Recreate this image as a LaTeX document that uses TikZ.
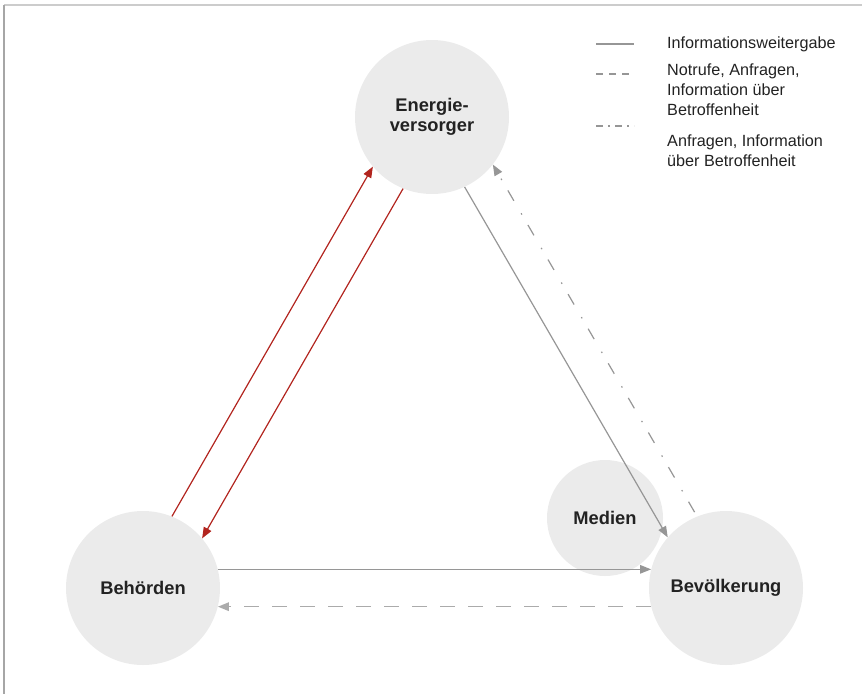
\documentclass[tikz,border=0pt]{standalone}
\usepackage{fontspec}
\setmainfont{Liberation Sans}
\usetikzlibrary{arrows.meta}

\definecolor{circlegray}{RGB}{235,235,235}
\definecolor{linegray}{RGB}{150,150,150}
\definecolor{arrowred}{RGB}{178,36,30}
\definecolor{textdark}{RGB}{34,34,34}

\begin{document}
\begin{tikzpicture}[x=1pt, y=-1pt,
        actor/.style = {circle, fill=circlegray, inner sep=0pt, minimum size=154pt, align=center,
                        text=textdark, font=\fontsize{18.3}{20}\selectfont\bfseries},
        info/.style = {draw=linegray, line width=1.2pt, -{Triangle[length=11pt,width=8.5pt]}},
        infored/.style = {info, draw=arrowred},
        legtext/.style = {anchor=west, align=left, text=textdark, inner sep=0pt,
                          font=\fontsize{16.2}{20}\selectfont}]
    \useasboundingbox (0,0) rectangle (862,694);
    % frame
    \draw[draw=black!20, line width=1.6pt] (4,5) -- (862,5);
    \draw[draw=black!35, line width=1.2pt] (4,5) -- (4,694);

    \node[actor] (ene) at (432,117) {Energie-\\versorger};
    \node[actor] (beh) at (143,588) {Behörden};
    \node[actor] (bev) at (726,588) {Bevölkerung};
    \node[actor, minimum size=116pt] (med) at (605,518) {Medien};

    \draw[infored] (beh.68) -- (ene.220);
    \draw[infored] (ene.248) -- (beh.40);
    \draw[info] (ene.295) -- (bev.139);
    \draw[info, dash pattern=on 12pt off 12pt on 1.5pt off 14.5pt, shorten <=5pt] (bev.112) -- (ene.322);
    \draw[info] (beh.14) -- (bev.166);
    \draw[info, draw=linegray!80, line width=1.6pt, dash pattern=on 15pt off 13pt] (bev.194) -- (beh.-14);

    % legend
    \draw[linegray, line width=1.1pt] (596,44) -- (634,44);
    \draw[linegray, line width=1.1pt, dash pattern=on 7pt off 6pt] (596,74) -- (634,74);
    \draw[linegray, line width=1.1pt, dash pattern=on 7pt off 5pt on 2pt off 5pt] (596,126) -- (634,126);
    \node[legtext] (l1) at (667,44) {Informationsweitergabe};
    \node[legtext, anchor=north west] (l2) at (667,64) {Notrufe, Anfragen,\\Information über\\Betroffenheit};
    \node[legtext, anchor=north west] (l3) at (667,135) {Anfragen, Information\\über Betroffenheit};
\end{tikzpicture}
\end{document}
